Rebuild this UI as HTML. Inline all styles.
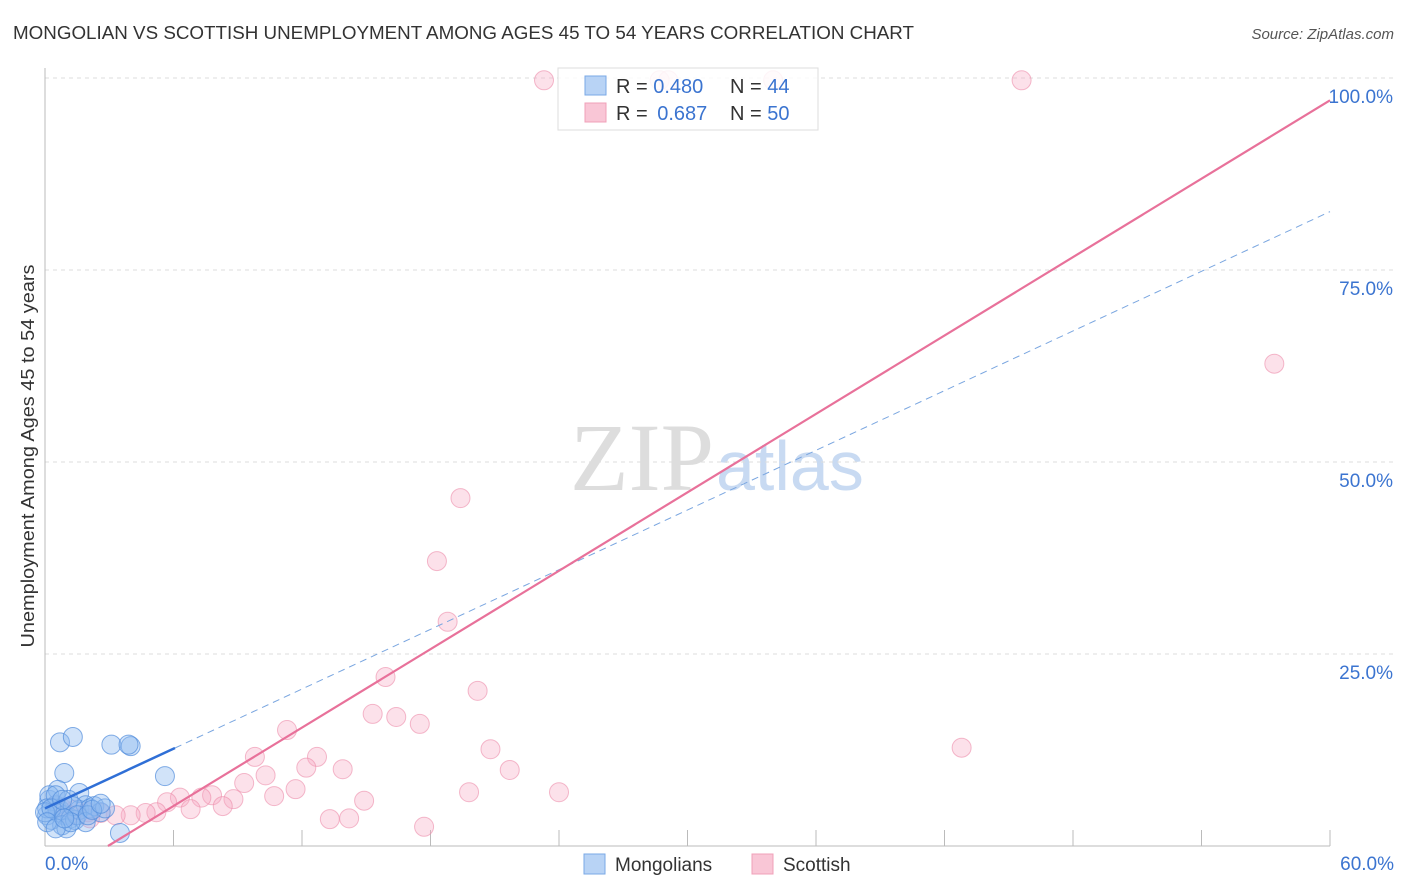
<!DOCTYPE html>
<html><head><meta charset="utf-8"><style>
body{margin:0;background:#fff;font-family:"Liberation Sans",sans-serif}
</style></head><body>
<svg width="1406" height="892" style="display:block">
<text x="13" y="39" font-size="18" fill="#333" textLength="901" lengthAdjust="spacingAndGlyphs">MONGOLIAN VS SCOTTISH UNEMPLOYMENT AMONG AGES 45 TO 54 YEARS CORRELATION CHART</text>
<text x="1394" y="39" font-size="15" fill="#555" font-style="italic" text-anchor="end">Source: ZipAtlas.com</text>
<text x="0" y="0" font-size="18" fill="#333" textLength="383" lengthAdjust="spacingAndGlyphs" transform="translate(34,456) rotate(-90)" text-anchor="middle">Unemployment Among Ages 45 to 54 years</text>
<text x="714" y="490" font-size="96" fill="#ddd" text-anchor="end" font-family="Liberation Serif,serif">ZIP</text>
<text x="716" y="490" font-size="70" fill="#c8daf2">atlas</text>
<g id="grid"></g><g id="pts"></g><g id="lines"></g>
<g>
<rect x="558" y="68" width="260" height="62" fill="rgba(255,255,255,0.85)" stroke="#ddd"/>
<rect x="585" y="76" width="21" height="19" fill="#b8d3f5" stroke="#7aa8e6"/>
<rect x="585" y="103" width="21" height="19" fill="#f9c6d6" stroke="#f0a0b8"/>
<text x="616" y="93" font-size="20" fill="#333">R = <tspan fill="#3b74d0">0.480</tspan></text>
<text x="730" y="93" font-size="20" fill="#333">N = <tspan fill="#3b74d0">44</tspan></text>
<text x="616" y="120" font-size="20" fill="#333">R = <tspan fill="#3b74d0" dx="4">0.687</tspan></text>
<text x="730" y="120" font-size="20" fill="#333">N = <tspan fill="#3b74d0">50</tspan></text>
</g>
<g>
<rect x="584" y="854" width="21" height="20" fill="#b8d3f5" stroke="#7aa8e6"/>
<text x="615" y="871" font-size="19" fill="#333">Mongolians</text>
<rect x="752" y="854" width="21" height="20" fill="#f9c6d6" stroke="#f0a0b8"/>
<text x="783" y="871" font-size="19" fill="#333">Scottish</text>
</g>
</svg>
<script>
const xTicks=[0,60];
const yTicks=[25,50,75,100];
const pinkX=[23.3,28.7,29.1,34.0,45.6,57.4,19.4,18.3,18.8,15.9,20.2,15.3,16.4,17.5,11.3,20.8,42.8,9.8,12.7,13.9,12.2,10.3,21.7,9.3,11.7,19.8,24.0,10.7,7.8,6.3,8.8,7.3,14.9,5.7,8.3,6.8,13.3,14.2,17.7,5.2,4.7,4.0,3.3,2.6,2.0,1.4,0.8,0.5,1.2,2.1];
const pinkY=[99.7,99.7,99.7,99.7,99.7,62.8,45.3,37.1,29.2,22.0,20.2,17.2,16.8,15.9,15.1,12.6,12.8,11.6,11.6,10.0,10.2,9.2,9.9,8.2,7.4,7.0,7.0,6.5,6.6,6.3,6.1,6.3,5.9,5.7,5.2,4.8,3.5,3.6,2.5,4.4,4.3,4.0,4.0,4.3,4.4,4.7,4.9,5.3,4.0,3.6];
const blueX=[0.7,1.3,3.1,4.0,3.9,0.9,5.6,1.6,3.5,0.2,0.5,0.7,0.1,0.3,0.6,0.9,1.2,0.8,1.0,1.4,1.6,1.9,2.1,2.3,2.6,2.8,0.6,0.2,0.1,0.5,1.1,1.3,1.5,1.9,0,0.3,0.8,1.2,2.0,2.2,2.6,0.1,0.5,0.9];
const blueY=[13.5,14.2,13.2,13.0,13.2,9.5,9.1,6.9,1.7,6.0,5.3,4.7,4.0,3.4,4.4,4.0,3.6,2.7,2.3,3.4,4.7,5.3,4.9,5.2,4.4,4.9,7.3,6.6,4.9,6.6,6.0,5.2,4.0,3.1,4.4,4.9,6.0,3.1,4.0,4.7,5.5,3.1,2.3,3.6];
const pinkLine=[2.94,0,60,97.1];
const blueLine=[0,4.9,6.07,82.6];
const X=v=>45+v*1285/60, Y=v=>846-v*7.68;
const NS='http://www.w3.org/2000/svg';
function mk(t,a,p){const e=document.createElementNS(NS,t);for(const k in a)e.setAttribute(k,a[k]);p.appendChild(e);return e;}
const g=document.getElementById('grid');
yTicks.forEach(t=>{
 const l=mk('line',{x1:45,x2:1394,y1:Y(t),y2:Y(t),stroke:'#ddd','stroke-dasharray':'4,4'},g);
 
 
 const tx=mk('text',{x:1393,y:Y(t)+25,'font-size':19,fill:'#3b74d0','text-anchor':'end'},g);tx.textContent=t.toFixed(1)+'%';
 
 
});
for(let i=1;i<=10;i++){const l=mk('line',{x1:X(i*6),x2:X(i*6),y1:830,y2:846,stroke:'#bbb'},g);
 
 }
mk('line',{x1:45,x2:45,y1:68,y2:846,stroke:'#bbb'},g);
mk('line',{x1:45,x2:1330,y1:846,y2:846,stroke:'#bbb'},g);
xTicks.forEach((t,i)=>{const tx=mk('text',{x:i?1394:45,y:870,'font-size':19,fill:'#3b74d0','text-anchor':i?'end':'start'},g);tx.textContent=t.toFixed(1)+'%';
 
 });
const p=document.getElementById('pts');
pinkX.forEach((x,i)=>{const c=mk('circle',{cx:X(x),cy:Y(pinkY[i]),r:9.5,fill:'rgba(246,170,195,0.35)',stroke:'rgba(236,140,170,0.6)'},p);
 
 });
blueX.forEach((x,i)=>{const c=mk('circle',{cx:X(x),cy:Y(blueY[i]),r:9.5,fill:'rgba(140,185,240,0.4)',stroke:'rgba(80,140,220,0.7)'},p);
 
 });
const L=document.getElementById('lines');
const s=(blueLine[3]-blueLine[1])/60;
const b1=mk('line',{x1:X(0),y1:Y(blueLine[1]),x2:X(blueLine[2]),y2:Y(blueLine[1]+s*blueLine[2]),stroke:'#2f6fd6','stroke-width':2.5},L);


const b2=mk('line',{x1:X(blueLine[2]),y1:Y(blueLine[1]+s*blueLine[2]),x2:X(60),y2:Y(blueLine[3]),stroke:'#7aa6e0','stroke-width':1,'stroke-dasharray':'7,5'},L);


const pl=mk('line',{x1:X(pinkLine[0]),y1:Y(pinkLine[1]),x2:X(pinkLine[2]),y2:Y(pinkLine[3]),stroke:'#e8719a','stroke-width':2.2},L);


</script>
</body></html>
